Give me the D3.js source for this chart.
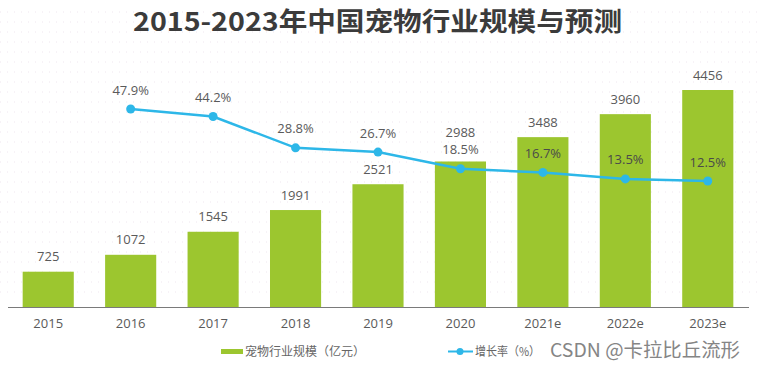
<!DOCTYPE html>
<html>
<head>
<meta charset="utf-8">
<script src="https://cdn.jsdelivr.net/npm/d3@7"></script>
<style>
body{margin:0;background:#fff;}
svg{display:block;font-family:"Open Sans","Noto Sans CJK SC",sans-serif;}
</style>
</head>
<body>
<script>
var width = 757;
var height = 368;

// datos
var years = ["2015","2016","2017","2018","2019","2020","2021e","2022e","2023e"];
var scale_values = [725,1072,1545,1991,2521,2988,3488,3960,4456];
var growth = [null,47.9,44.2,28.8,26.7,18.5,16.7,13.5,12.5];
var title = "2015-2023年中国宠物行业规模与预测";
var legend_bar = "宠物行业规模（亿元）";
var legend_line = "增长率（%）";
var watermark = "CSDN @卡拉比丘流形";

var barColor = "#9cc62f";
var lineColor = "#2db7e8";
var textColor = "#5a5a5a";

var svg = d3.select("body").append("svg")
  .attr("width", width)
  .attr("height", height);

// fondo punteado tenue
var bgRows = d3.range(12, 300, 10);
svg.append("g").selectAll("line")
  .data(bgRows)
  .enter().append("line")
  .attr("x1", 0).attr("x2", width)
  .attr("y1", d => d).attr("y2", d => d)
  .attr("stroke", "#efe6ef")
  .attr("stroke-width", 1)
  .attr("stroke-dasharray", "1,6");

var baseline = 307;

var x = d3.scaleBand()
  .domain(years)
  .range([7, 749])
  .paddingInner(0.38)
  .paddingOuter(0.19);

var y = d3.scaleLinear()
  .domain([0, 5000])
  .range([baseline, baseline - 5000 * 217 / 4456]);

var y2 = d3.scaleLinear()
  .domain([0, 50])
  .range([206.4, 206.4 - 50 * 2.034]);

// titulo
svg.append("text")
  .attr("x", 133)
  .attr("y", 31)
  .attr("textLength", 489)
  .attr("lengthAdjust", "spacingAndGlyphs")
  .style("font-family", "'Noto Sans CJK SC',sans-serif")
  .style("font-weight", "bold")
  .style("font-size", "26px")
  .style("fill", "#3b3b3b")
  .text(title);

// barras
svg.selectAll(".bar")
  .data(scale_values)
  .enter().append("rect")
  .attr("class", "bar")
  .attr("x", (d, i) => x(years[i]))
  .attr("y", d => y(d))
  .attr("width", x.bandwidth())
  .attr("height", d => baseline - y(d))
  .style("fill", barColor);

// eje
var xAxis = d3.axisBottom(x).tickSize(0).tickPadding(12);
var gx = svg.append("g")
  .attr("transform", "translate(0," + baseline + ")")
  .call(xAxis);
gx.select(".domain").attr("d", "M8,0.5H749").attr("stroke", "#7a7a7a");
gx.selectAll("text")
  .style("font-family", "'Open Sans',sans-serif")
  .style("font-size", "13px")
  .style("fill", textColor);

// linea de crecimiento
var pts = growth.map((g, i) => ({g: g, year: years[i]})).filter(d => d.g != null);
var line = d3.line()
  .x(d => x(d.year) + x.bandwidth() / 2)
  .y(d => y2(d.g));

svg.append("path")
  .datum(pts)
  .attr("d", line)
  .attr("fill", "none")
  .attr("stroke", lineColor)
  .attr("stroke-width", 2.5);

svg.selectAll(".pt")
  .data(pts)
  .enter().append("circle")
  .attr("class", "pt")
  .attr("cx", d => x(d.year) + x.bandwidth() / 2)
  .attr("cy", d => y2(d.g))
  .attr("r", 4.5)
  .style("fill", lineColor);

// etiquetas de porcentaje
svg.selectAll(".pct")
  .data(pts)
  .enter().append("text")
  .attr("class", "pct")
  .attr("x", d => x(d.year) + x.bandwidth() / 2)
  .attr("y", d => y2(d.g) - 19)
  .attr("dy", "0.35em")
  .attr("text-anchor", "middle")
  .style("font-size", "13px")
  .style("fill", d => y2(d.g) - 19 > y(scale_values[years.indexOf(d.year)]) ? "#4a4a4a" : textColor)
  .text(d => d.g.toFixed(1) + "%");

// etiquetas de barras (se suben si chocan con el porcentaje)
function barLabelY(d, i){
  var cy = y(d) - 15;
  if (growth[i] != null){
    var py = y2(growth[i]) - 19;
    if (Math.abs(cy - py) < 14) cy = py - 17;
  }
  return cy;
}
svg.selectAll(".val")
  .data(scale_values)
  .enter().append("text")
  .attr("class", "val")
  .attr("x", (d, i) => x(years[i]) + x.bandwidth() / 2)
  .attr("y", (d, i) => barLabelY(d, i))
  .attr("dy", "0.35em")
  .attr("text-anchor", "middle")
  .style("font-size", "13px")
  .style("fill", textColor)
  .text(d => d);

// leyenda
var leg = svg.append("g").attr("class", "legend");
leg.append("rect")
  .attr("x", 221).attr("y", 349)
  .attr("width", 22).attr("height", 5)
  .style("fill", barColor);
leg.append("text")
  .attr("x", 245).attr("y", 351.5)
  .attr("dy", "0.35em")
  .style("font-family", "'Noto Sans CJK SC',sans-serif")
  .style("font-size", "12px")
  .style("fill", "#666")
  .text(legend_bar);
leg.append("line")
  .attr("x1", 448).attr("x2", 473)
  .attr("y1", 351.5).attr("y2", 351.5)
  .attr("stroke", lineColor)
  .attr("stroke-width", 2);
leg.append("circle")
  .attr("cx", 460).attr("cy", 351.5)
  .attr("r", 3.5)
  .style("fill", lineColor);
leg.append("text")
  .attr("x", 475).attr("y", 351.5)
  .attr("dy", "0.35em")
  .attr("textLength", 65)
  .attr("lengthAdjust", "spacingAndGlyphs")
  .style("font-family", "'Noto Sans CJK SC',sans-serif")
  .style("font-size", "12px")
  .style("fill", "#666")
  .text(legend_line);

// marca de agua
svg.append("text")
  .attr("x", 550).attr("y", 350)
  .attr("dy", "0.35em")
  .attr("textLength", 190)
  .attr("lengthAdjust", "spacingAndGlyphs")
  .style("font-family", "'Noto Sans CJK SC',sans-serif")
  .style("font-size", "19px")
  .style("fill", "#858585")
  .text(watermark);
</script>
</body>
</html>
